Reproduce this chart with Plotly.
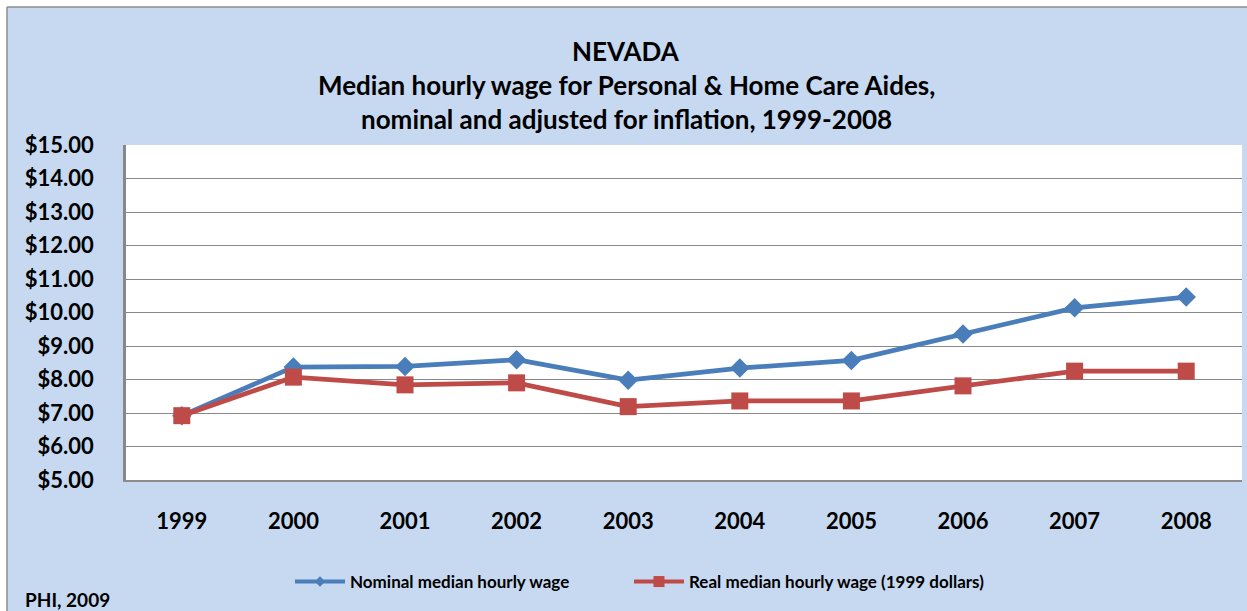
import plotly.graph_objects as go

# Median hourly wage, Nevada, Personal & Home Care Aides
years = ["1999", "2000", "2001", "2002", "2003", "2004", "2005", "2006", "2007", "2008"]
nominal_wage = [6.92, 8.37, 8.39, 8.59, 7.98, 8.34, 8.57, 9.36, 10.14, 10.46]
real_wage = [6.92, 8.07, 7.84, 7.90, 7.19, 7.36, 7.36, 7.81, 8.25, 8.25]

series_names = ["Nominal median hourly wage", "Real median hourly wage (1999 dollars)"]
title_lines = [
    "NEVADA",
    "Median hourly wage for Personal & Home Care Aides,",
    "nominal and adjusted for inflation, 1999-2008",
]
source_note = "PHI, 2009"

BLUE = "#4A7EBB"
RED = "#BE4B48"
BG = "#C6D9F0"
FONT = "Lato"

W, H = 1247, 611
L, R, T, B = 126, 5, 145, 131
PW, PH = W - L - R, H - T - B


def px_x(x):
    return (x - L) / PW


def px_y(y):
    return (H - B - y) / PH


fig = go.Figure()

# data series (legend entries drawn separately with smaller glyphs)
fig.add_trace(go.Scatter(
    x=years, y=nominal_wage, mode="lines+markers", showlegend=False,
    line=dict(color=BLUE, width=4.8),
    marker=dict(symbol="diamond", size=15, color=BLUE),
))
fig.add_trace(go.Scatter(
    x=years, y=real_wage, mode="lines+markers", showlegend=False,
    line=dict(color=RED, width=4.8),
    marker=dict(symbol="square", size=17, color=RED),
))

# legend-only entries
fig.add_trace(go.Scatter(
    x=[None], y=[None], mode="lines+markers", name=series_names[0],
    line=dict(color=BLUE, width=4), marker=dict(symbol="diamond", size=8, color=BLUE),
    legend="legend",
))
fig.add_trace(go.Scatter(
    x=[None], y=[None], mode="lines+markers", name=series_names[1],
    line=dict(color=RED, width=4), marker=dict(symbol="square", size=11, color=RED),
    legend="legend2",
))

legend_common = dict(
    orientation="h", bgcolor="rgba(0,0,0,0)", borderwidth=0,
    font=dict(family=FONT, size=17, color="#000000", weight="bold"),
    xanchor="left", yanchor="middle", itemwidth=50,
)

annotations = []
for text, cy in zip(title_lines, [51, 85, 119]):
    annotations.append(dict(
        text=text, xref="paper", yref="paper", x=px_x(626), y=px_y(cy),
        xanchor="center", yanchor="middle", showarrow=False,
        font=dict(family=FONT, size=26, color="#000000", weight="bold"),
    ))
annotations.append(dict(
    text=source_note, xref="paper", yref="paper", x=px_x(23), y=px_y(613),
    xanchor="left", yanchor="bottom", showarrow=False,
    font=dict(family=FONT, size=19, color="#000000", weight="bold"),
))

shapes = [
    # white margin and grey frame around the chart area
    dict(type="rect", xref="paper", yref="paper", x0=px_x(-5), x1=px_x(7), y0=px_y(H + 5), y1=px_y(-5),
         fillcolor="white", line=dict(width=0), layer="above"),
    dict(type="rect", xref="paper", yref="paper", x0=px_x(-5), x1=px_x(W + 5), y0=px_y(7), y1=px_y(-5),
         fillcolor="white", line=dict(width=0), layer="above"),
    dict(type="line", xref="paper", yref="paper", x0=px_x(7), x1=px_x(7), y0=px_y(7), y1=px_y(H + 5),
         line=dict(color="#8C8C8C", width=1.5), layer="above"),
    dict(type="line", xref="paper", yref="paper", x0=px_x(7), x1=px_x(W + 5), y0=px_y(7), y1=px_y(7),
         line=dict(color="#8C8C8C", width=1.5), layer="above"),
]

fig.update_layout(
    width=W, height=H,
    margin=dict(l=L, r=R, t=T, b=B),
    paper_bgcolor=BG, plot_bgcolor="white",
    font=dict(family=FONT, color="#000000"),
    showlegend=True,
    legend=dict(legend_common, x=px_x(290), y=px_y(582)),
    legend2=dict(legend_common, x=px_x(629), y=px_y(582)),
    annotations=annotations,
    shapes=shapes,
    xaxis=dict(
        type="category", categoryorder="array", categoryarray=years,
        range=[-0.5, 9.5], showgrid=False, zeroline=False,
        showline=True, linecolor="#8C8C8C", linewidth=1.5,
        ticks="", ticklabelstandoff=21,
        tickfont=dict(family=FONT, size=22, color="#000000", weight="bold"),
    ),
    yaxis=dict(
        range=[5, 15], dtick=1, tickformat="$.2f",
        showgrid=True, gridcolor="#888888", gridwidth=1.3, zeroline=False,
        showline=True, linecolor="#888888", linewidth=2.5,
        ticks="", ticklabelstandoff=25,
        tickfont=dict(family=FONT, size=22, color="#000000", weight="bold"),
    ),
)

fig.write_html("out.html")
